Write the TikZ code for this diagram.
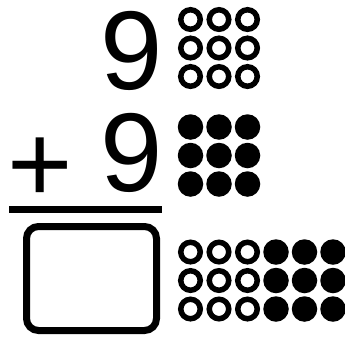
\documentclass[tikz,border=0pt]{standalone}
\usepackage{fontspec}
\setmainfont{Liberation Sans}
\usepackage{tikz}

\begin{document}
\begin{tikzpicture}[
      x=1pt,
      y=-1pt,
      digit/.style={anchor=base,inner sep=0pt,font=\fontsize{112}{112}\selectfont},
      ring/.style={circle,draw,line width=5.5pt,minimum size=19.5pt,inner sep=0pt},
      dot/.style={circle,fill,minimum size=25.5pt,inner sep=0pt}
    ]
      \useasboundingbox (0,0) rectangle (345,338);
      % the two addends
      \node[digit] (top) at (132,89) {9};
      \node[digit] (bottom) at (132,191) {9};
      \node[digit] (plus) at (40,202) {+};
      \draw[line width=7pt] (9,209.5) -- (162,209.5);
      % answer box
      \draw[line width=7pt,rounded corners=12pt] (26.5,226.5) rectangle (156.5,330.5);
      % counters
      \foreach \row/\y in {1/19.5,2/48,3/76.5} {
        \foreach \col/\x in {1/190.5,2/219,3/247.5} {
          \node[ring] (a\row\col) at (\x,\y) {};
          \node[dot] (b\row\col) at (\x,\y+107.5) {};
          \node[ring] (s\row\col) at (\x,\y+232.5) {};
          \node[dot] (t\row\col) at (\x+85.5,\y+232.5) {};
        }
      }
    \end{tikzpicture}
\end{document}
